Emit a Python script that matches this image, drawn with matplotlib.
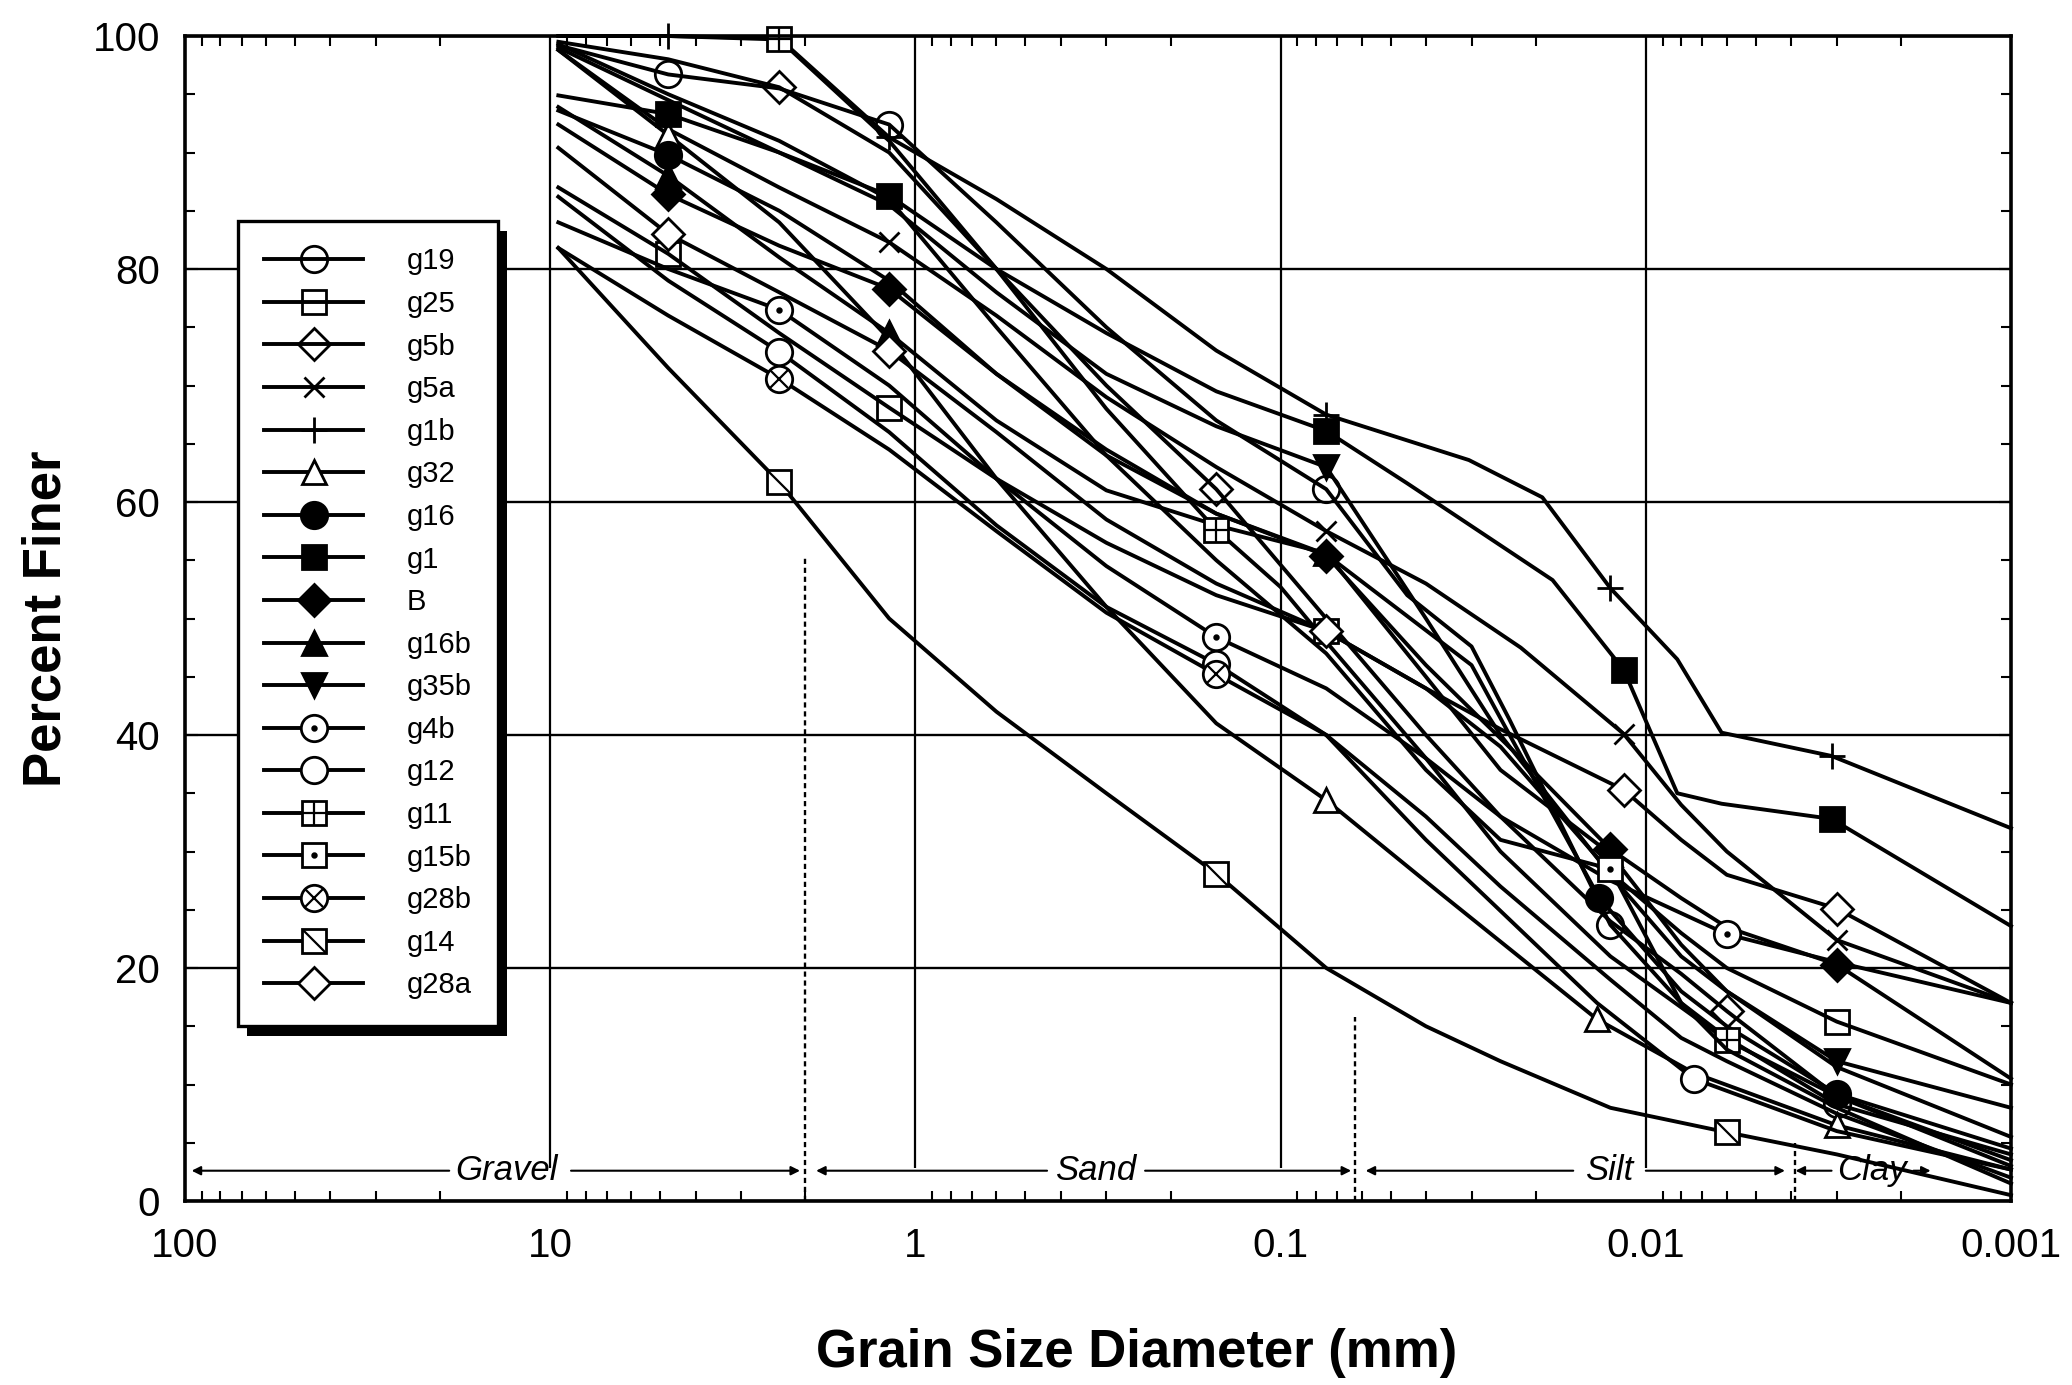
import matplotlib
matplotlib.use("Agg")
import matplotlib.pyplot as plt
from matplotlib.patches import Rectangle
from matplotlib.transforms import IdentityTransform
from matplotlib.legend_handler import HandlerTuple
from matplotlib.path import Path
from matplotlib.ticker import FixedLocator, LogLocator, MultipleLocator, NullFormatter

plt.rcParams['font.family'] = ['Liberation Sans', 'DejaVu Sans']

# tamices (mm)
sieve = [9.5, 4.75, 2.36, 1.18, 0.6, 0.3, 0.15, 0.075]

# curvas granulométricas: diámetro (mm), % que pasa, índices con marcador
g19_d = sieve + [0.045, 0.03, 0.0236, 0.0125, 0.008, 0.006, 0.003, 0.001]
g19_p = [99.2, 96.7, 95.5, 92.4, 84, 75, 67, 61.1, 52, 47.6, 41.3, 23.7, 17, 14, 8.3, 4]
g19_m = [1, 3, 7, 11, 14]

g25_d = sieve + [0.04, 0.025, 0.0125, 0.008, 0.006, 0.003, 0.001]
g25_p = [87, 81.3, 74.5, 68.1, 62, 56.5, 52, 48.9, 44, 39, 28.2, 23, 20, 15.4, 10]
g25_m = [1, 3, 7, 13]

g5b_d = sieve + [0.04, 0.025, 0.0125, 0.008, 0.006, 0.003, 0.001]
g5b_p = [99.5, 98, 95.6, 90, 80, 70, 61.1, 50, 40, 33, 24, 19.5, 16.3, 9, 3]
g5b_m = [2, 6, 12]

g5a_d = sieve + [0.04, 0.022, 0.0115, 0.008, 0.006, 0.003, 0.001]
g5a_p = [98.8, 92, 87, 82.3, 76, 69, 63, 57.5, 53, 47.5, 40.1, 34, 30, 22.4, 17]
g5a_m = [3, 7, 10, 13]

g1b_d = sieve + [0.0305, 0.0192, 0.0125, 0.0082, 0.0062, 0.0031, 0.001]
g1b_p = [100, 100, 99.8, 91.3, 86, 80, 73, 67.5, 63.6, 60.4, 52.6, 46.5, 40.2, 38.2, 32]
g1b_m = [1, 3, 7, 10, 13]

g32_d = sieve + [0.0368, 0.0136, 0.0074, 0.003, 0.001]
g32_p = [98.8, 91.5, 84, 74, 62, 51, 41, 34.4, 26.5, 15.6, 11, 6.5, 2.7]
g32_m = [1, 3, 7, 9, 11]

g16_d = sieve + [0.03, 0.0236, 0.0134, 0.008, 0.006, 0.003, 0.001]
g16_p = [93.6, 89.8, 85, 79, 71, 64, 59, 55.5, 46, 40, 26, 18, 15, 9.2, 4.5]
g16_m = [1, 10, 13]

g1_d = sieve + [0.045, 0.018, 0.0115, 0.0082, 0.0062, 0.0031, 0.001]
g1_p = [94.9, 93.3, 90, 86.3, 80, 74.5, 69.5, 66.1, 61.6, 53.3, 45.6, 35, 34.1, 32.8, 23.6]
g1_m = [1, 3, 7, 10, 13]

B_d = sieve + [0.04, 0.022, 0.0125, 0.008, 0.006, 0.003, 0.001]
B_p = [92.4, 86.4, 82, 78.3, 71, 64.5, 59, 55.4, 46, 38, 30.2, 26, 23.5, 20.3, 10.5]
B_m = [1, 3, 7, 10, 13]

g16b_d = sieve + [0.04, 0.025, 0.0125, 0.008, 0.006, 0.003, 0.001]
g16b_p = [93.9, 88, 81, 74.5, 67, 61, 58, 55.6, 45, 37, 29.8, 22, 18, 11.5, 5.5]
g16b_m = [1, 3, 7, 10]

g35b_d = sieve + [0.04, 0.025, 0.0125, 0.008, 0.006, 0.003, 0.001]
g35b_p = [99, 94.5, 90, 85.5, 78, 71, 66.5, 63, 50, 40, 28, 21, 18, 12, 8]
g35b_m = [7, 13]

g4b_d = sieve + [0.04, 0.025, 0.0125, 0.006, 0.003, 0.001]
g4b_p = [84, 80, 76.5, 70, 62, 54.5, 48.4, 44, 38, 33, 27.5, 22.9, 20.5, 17]
g4b_m = [2, 6, 11]

g12_d = sieve + [0.04, 0.0136, 0.0074, 0.003, 0.001]
g12_p = [86.2, 79, 72.9, 66, 58, 51, 46.1, 40, 31, 17, 10.5, 6, 2.7]
g12_m = [2, 6, 10]

g11_d = [9.5, 4.75, 2.36, 1.18, 0.6, 0.3, 0.15, 0.1, 0.075, 0.04, 0.025, 0.0125, 0.006, 0.003, 0.001]
g11_p = [100, 100, 99.7, 91, 80, 68, 57.6, 52.7, 48, 38, 30, 21, 13.8, 9, 3.5]
g11_m = [2, 6, 12]

g15b_d = sieve + [0.04, 0.025, 0.0125, 0.008, 0.006, 0.003, 0.001]
g15b_p = [99.3, 95, 91, 86, 75, 64, 55, 47, 37, 31, 28.5, 17, 13, 8, 1.5]
g15b_m = [10]

g28b_d = sieve + [0.04, 0.025, 0.0125, 0.008, 0.006, 0.003, 0.001]
g28b_p = [81.8, 76, 70.6, 64.5, 57.5, 50.5, 45.2, 40, 33, 27, 19, 14, 12, 7.5, 2]
g28b_m = [2, 6]

g14_d = sieve + [0.04, 0.025, 0.0125, 0.006, 0.003, 0.001]
g14_p = [81.8, 71.5, 61.7, 50, 42, 35, 28.1, 20, 15, 12, 8, 5.9, 4, 0.5]
g14_m = [2, 6, 11]

g28a_d = sieve + [0.04, 0.025, 0.0115, 0.008, 0.006, 0.003, 0.001]
g28a_p = [90.4, 83, 78, 73, 66, 58.5, 53, 48.9, 44, 40.5, 35.3, 31, 28, 25.1, 17]
g28a_m = [1, 3, 7, 10, 13]

# límites de fracciones (mm)
zone_names = ['Gravel', 'Sand', 'Silt', 'Clay']
zone_text_d = [13.2, 0.32, 0.0126, 0.0024]
zone_left = [(18.9, 95.9), (0.436, 1.87), (0.0158, 0.0585), (0.0031, 0.00389)]
zone_right = [(8.77, 2.07), (0.235, 0.0641), (0.01, 0.00416), (0.00185, 0.00166)]
bounds_d = [2.0, 0.0625, 0.0039]
bounds_top = [55.4, 15.8, 5.0]
grid_decades = [10, 1, 0.1, 0.01]

fig = plt.figure(figsize=(20.72, 13.85), dpi=100)
ax = fig.add_axes([185 / 2072, 1 - 1201 / 1385, 1826 / 2072, 1165 / 1385])

LW = 2.8
MS = 19
MEW = 2.0
diag = Path([(-1, 1), (1, -1)])


def curva(d, p, m, marker, ms=MS, mfc='white', fs='full', inner=None, inner_ms=5):
    ln, = ax.plot(d, p, color='black', lw=LW, marker=marker, ms=ms, mfc=mfc,
                  mec='black', mew=MEW, fillstyle=fs, markevery=m, clip_on=False)
    if inner is None:
        return ln
    ov, = ax.plot(d, p, ls='none', marker=inner, ms=inner_ms, color='black',
                  mew=1.6, markevery=m, clip_on=False)
    return (ln, ov)


handles = [
    curva(g19_d, g19_p, g19_m, 'o', fs='none'),
    curva(g25_d, g25_p, g25_m, 's', ms=17, fs='none'),
    curva(g5b_d, g5b_p, g5b_m, 'D', ms=16, fs='none'),
    curva(g5a_d, g5a_p, g5a_m, 'x', ms=15),
    curva(g1b_d, g1b_p, g1b_m, '+', ms=19),
    curva(g32_d, g32_p, g32_m, '^', ms=17),
    curva(g16_d, g16_p, g16_m, 'o', mfc='black'),
    curva(g1_d, g1_p, g1_m, 's', ms=17, mfc='black'),
    curva(B_d, B_p, B_m, 'D', ms=16, mfc='black'),
    curva(g16b_d, g16b_p, g16b_m, '^', ms=17, mfc='black'),
    curva(g35b_d, g35b_p, g35b_m, 'v', ms=17, mfc='black'),
    curva(g4b_d, g4b_p, g4b_m, 'o', inner='.', inner_ms=6),
    curva(g12_d, g12_p, g12_m, 'o'),
    curva(g11_d, g11_p, g11_m, 's', ms=17, inner='+', inner_ms=17),
    curva(g15b_d, g15b_p, g15b_m, 's', ms=17, inner='.', inner_ms=6),
    curva(g28b_d, g28b_p, g28b_m, 'o', inner='x', inner_ms=13),
    curva(g14_d, g14_p, g14_m, 's', ms=17, inner=diag, inner_ms=17),
    curva(g28a_d, g28a_p, g28a_m, 'D', ms=16),
]
labels = ['g19', 'g25', 'g5b', 'g5a', 'g1b', 'g32', 'g16', 'g1', 'B', 'g16b',
          'g35b', 'g4b', 'g12', 'g11', 'g15b', 'g28b', 'g14', 'g28a']

# ejes
ax.set_xscale('log')
ax.set_xlim(100, 0.001)
ax.set_ylim(0, 100)
ax.xaxis.set_major_locator(FixedLocator([100, 10, 1, 0.1, 0.01, 0.001]))
ax.set_xticks([100, 10, 1, 0.1, 0.01, 0.001], ['100', '10', '1', '0.1', '0.01', '0.001'])
ax.xaxis.set_minor_locator(LogLocator(base=10, subs=range(2, 10), numticks=20))
ax.xaxis.set_minor_formatter(NullFormatter())
ax.set_yticks([0, 20, 40, 60, 80, 100])
ax.yaxis.set_minor_locator(MultipleLocator(5))
ax.tick_params(which='both', direction='in', top=True, right=True, width=1.5, colors='black')
ax.tick_params(which='major', length=9, labelsize=29)
ax.tick_params(axis='x', which='major', pad=19, length=0)
ax.tick_params(axis='y', which='major', pad=18)
ax.tick_params(which='minor', length=7)
for s in ax.spines.values():
    s.set_linewidth(2.6)

ax.yaxis.grid(True, which='major', color='black', lw=1.7)
ax.vlines(grid_decades, 2.8, 100, color='black', lw=1.6, zorder=1)
ax.vlines(bounds_d, 0, bounds_top, color='black', lw=1.7, linestyles=(0, (2.2, 1.6)), zorder=1)

for name, xt, (l0, l1), (r0, r1) in zip(zone_names, zone_text_d, zone_left, zone_right):
    ax.text(xt, 2.6, name, fontsize=25, style='italic', ha='center', va='center', zorder=3)
    for a, b in [(l0, l1), (r0, r1)]:
        ax.annotate('', xy=(b, 2.6), xytext=(a, 2.6),
                    arrowprops=dict(arrowstyle='-|>', color='black', lw=1.5,
                                    mutation_scale=13, shrinkA=0, shrinkB=0))

ax.set_xlabel('Grain Size Diameter (mm)', fontsize=38, fontweight='bold')
ax.xaxis.set_label_coords(0.521, -0.109)
ax.set_ylabel('Percent Finer', fontsize=38, fontweight='bold')
ax.yaxis.set_label_coords(-0.062, 0.5)

leg = ax.legend(handles, labels, loc='upper left', bbox_to_anchor=(0.029, 0.841),
                borderaxespad=0, fontsize=21, frameon=True, fancybox=False,
                edgecolor='black', framealpha=1, handlelength=3.4, handletextpad=1.5,
                labelspacing=0.5, borderpad=0.9, numpoints=1,
                handler_map={tuple: HandlerTuple(ndivide=1)})
leg.get_frame().set_linewidth(2.4)
leg.set_zorder(5)

fig.canvas.draw()
bb = leg.get_window_extent()
sombra = Rectangle((bb.x0 + 9, bb.y0 - 10), bb.width, bb.height, transform=IdentityTransform(),
                   facecolor='black', edgecolor='none', zorder=4.5)
ax.add_artist(sombra)

fig.savefig('out.png', dpi=100)
